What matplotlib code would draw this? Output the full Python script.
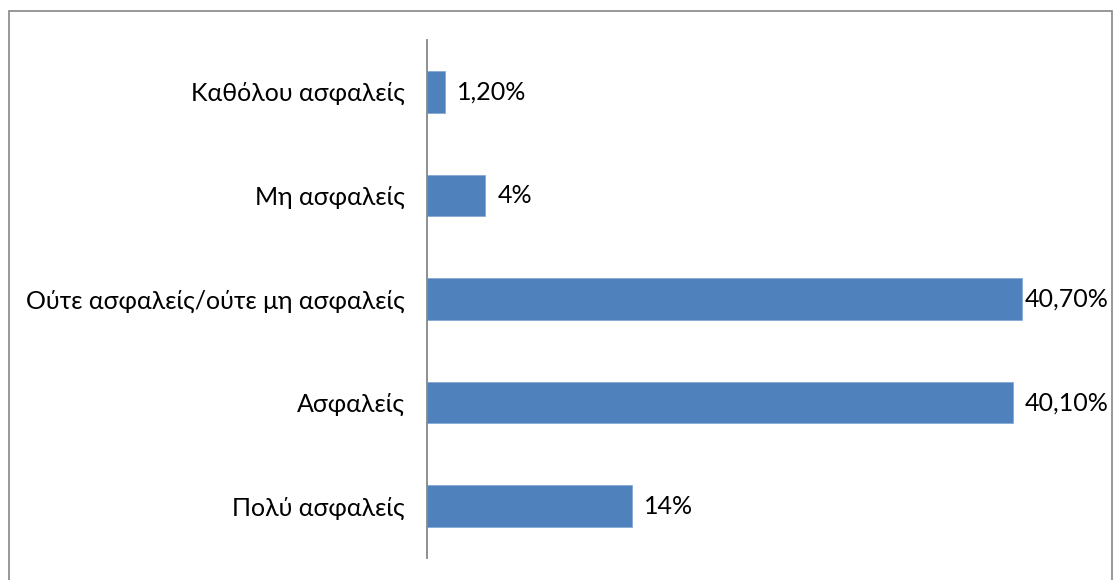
import matplotlib
matplotlib.use("Agg")
import matplotlib.pyplot as plt
import matplotlib.transforms as mt
from matplotlib.patches import Rectangle

categories = ["Πολύ ασφαλείς", "Ασφαλείς", "Ούτε ασφαλείς/ούτε μη ασφαλείς", "Μη ασφαλείς", "Καθόλου ασφαλείς"]
values = [14, 40.1, 40.7, 4, 1.2]
labels = ["14%", "40,10%", "40,70%", "4%", "1,20%"]

W, H = 1114, 580
plt.rcParams['font.family'] = ['Lato', 'DejaVu Sans']
fig = plt.figure(figsize=(W/100, H/100), dpi=100)
fig.patch.set_facecolor('white')

fig.add_artist(Rectangle((9/W, -0.01), (1112-9)/W, 1.01 - 11/H, transform=fig.transFigure,
                         fill=False, edgecolor='#868686', linewidth=1.2))

left = 427/W
xmax = 43
right = (427 + 43*14.62)/W
ax = fig.add_axes([left, 1-558/H, right-left, (558-40)/H])
bar_color = '#4F81BD'
y = list(range(len(categories)))
ax.barh(y, values, height=0.4, color=bar_color, edgecolor='#7EA6D6', linewidth=0.5)
ax.set_xlim(0, xmax)
ax.set_ylim(-0.5, len(categories)-0.5)
ax.set_yticks(y)
ax.set_yticklabels(categories, fontsize=18, color='black')
ax.tick_params(axis='y', length=0, pad=16)
ax.set_xticks([])
for s in ['top', 'right', 'bottom']:
    ax.spines[s].set_visible(False)
ax.spines['left'].set_color('#868686')
ax.spines['left'].set_linewidth(1.3)

fig.canvas.draw()
renderer = fig.canvas.get_renderer()
for yi, v, lab in zip(y, values, labels):
    t = ax.text(v, yi, lab, fontsize=18, va='center', ha='left')
    t.set_transform(mt.offset_copy(ax.transData, fig=fig, x=12, y=0, units='dots'))
    bb = t.get_window_extent(renderer)
    limit = 1109
    if bb.x1 > limit:
        t.set_transform(mt.offset_copy(ax.transData, fig=fig, x=12 - (bb.x1 - limit), y=0, units='dots'))

fig.savefig("out.png", dpi=100, facecolor='white')
